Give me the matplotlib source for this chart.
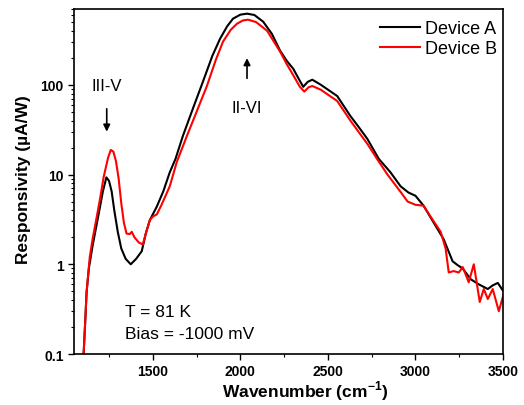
import matplotlib
matplotlib.use('Agg')
import matplotlib.pyplot as plt
from matplotlib.ticker import MultipleLocator, LogLocator, NullFormatter, FuncFormatter

plt.rcParams['font.family'] = ['Liberation Sans', 'DejaVu Sans']

# Device A (black) - wavenumber (cm-1) and responsivity (uA/W)
wn_a = [1105, 1115, 1122, 1135, 1156, 1175, 1196, 1215, 1235, 1250, 1265, 1280,
        1300, 1320, 1345, 1374, 1405, 1437, 1460, 1483, 1523, 1560, 1597, 1630,
        1672, 1730, 1786, 1840, 1884, 1925, 1958, 2000, 2038, 2080, 2130, 2180,
        2227, 2265, 2302, 2335, 2359, 2385, 2411, 2460, 2553, 2628, 2680, 2725,
        2790, 2857, 2915, 2960, 3000, 3046, 3100, 3161, 3212, 3240, 3269, 3316,
        3360, 3413, 3440, 3470, 3505]
resp_a = [0.1, 0.25, 0.49, 0.9, 1.6, 2.5, 4.1, 6.5, 9.3, 8.5, 6.5, 4.0,
          2.3, 1.5, 1.15, 1.0, 1.15, 1.4, 2.2, 3.1, 4.4, 6.5, 10.6, 15,
          27, 55, 108, 210, 326, 450, 546, 605, 621, 600, 506, 370,
          240, 185, 151, 115, 95, 108, 114, 100, 75, 45, 33, 25,
          15, 10.6, 7.4, 6.3, 5.8, 4.5, 3.0, 1.9, 1.08, 0.98, 0.9, 0.68,
          0.6, 0.53, 0.58, 0.62, 0.49]

# Device B (red)
wn_b = [1105, 1115, 1122, 1140, 1156, 1175, 1196, 1220, 1245, 1260, 1275, 1290,
        1305, 1320, 1335, 1350, 1368, 1380, 1395, 1420, 1443, 1460, 1483, 1500,
        1523, 1550, 1597, 1637, 1695, 1750, 1809, 1860, 1901, 1945, 1981, 2015,
        2044, 2090, 2153, 2227, 2265, 2302, 2340, 2365, 2390, 2411, 2460, 2553,
        2628, 2680, 2725, 2790, 2840, 2915, 2955, 3000, 3046, 3086, 3144, 3172,
        3190, 3218, 3247, 3270, 3304, 3333, 3367, 3390, 3413, 3441, 3476, 3504]
resp_b = [0.1, 0.25, 0.49, 1.2, 1.9, 3.0, 5.0, 9.5, 15.5, 18.8, 18.0, 14,
          9, 4.8, 2.9, 2.2, 2.17, 2.3, 2.0, 1.75, 1.66, 2.2, 3.1, 3.4,
          3.6, 4.6, 7.4, 13.8, 27, 50, 97, 190, 303, 410, 480, 522,
          532, 500, 400, 234, 170, 128, 95, 84, 94, 97, 88, 66,
          40, 29, 22, 14, 10, 6.4, 5.0, 4.6, 4.5, 3.4, 2.3, 1.5,
          0.81, 0.84, 0.81, 0.93, 0.63, 1.0, 0.38, 0.53, 0.41, 0.53, 0.30, 0.47]

fig = plt.figure(figsize=(5.24, 4.06), dpi=100)
ax = fig.add_axes([0.1412, 0.1256, 0.8188, 0.8498])

ax.plot(wn_a, resp_a, color='black', lw=1.5, label='Device A')
ax.plot(wn_b, resp_b, color='#ff0000', lw=1.5, label='Device B')

ax.set_yscale('log')
ax.set_xlim(1050, 3500)
ax.set_ylim(0.1, 700)

ax.xaxis.set_major_locator(MultipleLocator(500))
ax.xaxis.set_minor_locator(MultipleLocator(250))
ax.yaxis.set_major_locator(LogLocator(base=10))
ax.yaxis.set_minor_locator(LogLocator(base=10, subs=range(2, 10)))
ax.yaxis.set_minor_formatter(NullFormatter())
ax.yaxis.set_major_formatter(FuncFormatter(lambda v, p: '%g' % v))

ax.tick_params(which='major', direction='out', length=4, width=1, labelsize=10)
ax.tick_params(which='minor', direction='out', length=2.5, width=0.8)
for lab in ax.get_xticklabels() + ax.get_yticklabels():
    lab.set_fontweight('bold')
for s in ax.spines.values():
    s.set_linewidth(1.2)

ax.set_xlabel('Wavenumber (cm$^{\\mathregular{-1}}$)', fontsize=12.5, fontweight='bold')
ax.set_ylabel('Responsivity (\u00b5A/W)', fontsize=12.5, fontweight='bold')
ax.xaxis.set_label_coords(0.538, -0.072)
ax.yaxis.set_label_coords(-0.1, 0.507)

ax.legend(loc='upper right', frameon=False, fontsize=13, handlelength=2.2,
          borderaxespad=0.2, labelspacing=0.2, handletextpad=0.3,
          bbox_to_anchor=(1.012, 1.0))

ax.text(1237, 98, 'III-V', fontsize=12, ha='center', va='center')
ax.annotate('', xy=(1237, 28), xytext=(1237, 58),
            arrowprops=dict(arrowstyle='-|>', color='black', lw=1.2, mutation_scale=10))
ax.text(2038, 56, 'II-VI', fontsize=12, ha='center', va='center')
ax.annotate('', xy=(2038, 213), xytext=(2038, 110),
            arrowprops=dict(arrowstyle='-|>', color='black', lw=1.2, mutation_scale=10))

ax.text(0.119, 0.122, 'T = 81 K', transform=ax.transAxes, fontsize=12.5, ha='left', va='center')
ax.text(0.119, 0.058, 'Bias = -1000 mV', transform=ax.transAxes, fontsize=12.5, ha='left', va='center')

plt.savefig('out.png', dpi=100)
